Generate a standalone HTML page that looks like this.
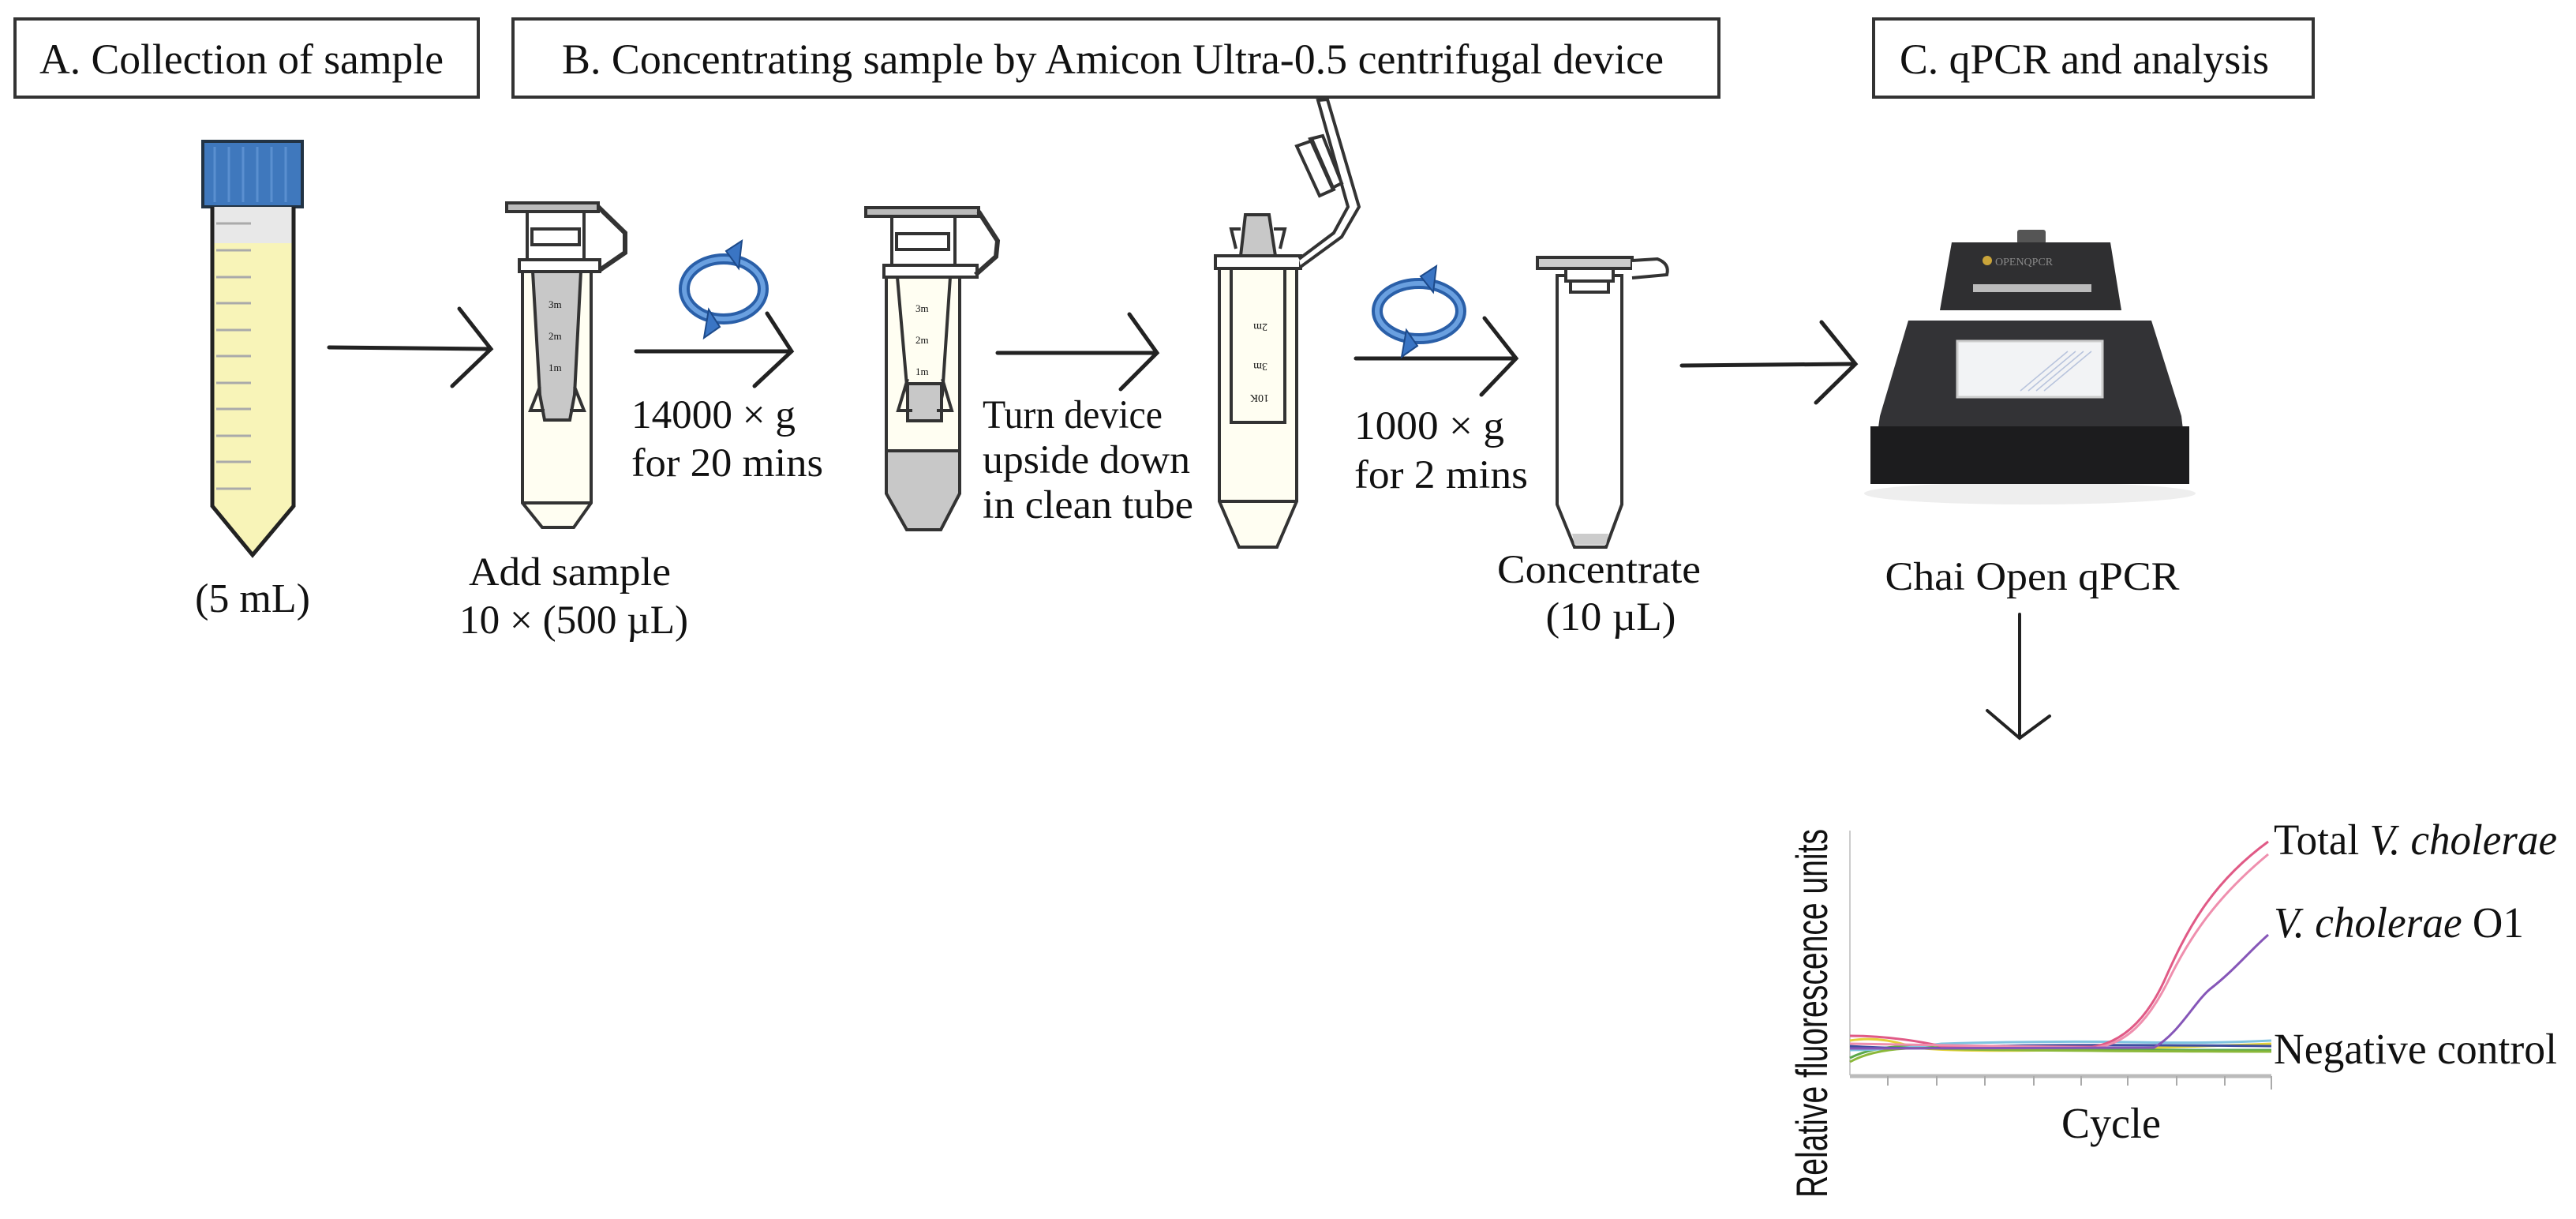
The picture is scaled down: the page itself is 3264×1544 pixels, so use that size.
<!DOCTYPE html>
<html><head><meta charset="utf-8"><style>
html,body{margin:0;padding:0;background:#fff}
svg{display:block}
text{font-family:"Liberation Serif",serif;fill:#111}
</style></head><body>
<svg width="3264" height="1544" viewBox="0 0 3264 1544" xmlns="http://www.w3.org/2000/svg">
<rect width="3264" height="1544" fill="#fff"/>
<!-- header boxes -->
<g fill="#fff" stroke="#333" stroke-width="4">
<rect x="19" y="24" width="587" height="99"/>
<rect x="650" y="24" width="1528" height="99"/>
<rect x="2374" y="24" width="557" height="99"/>
</g>
<g font-size="54">
<text x="50" y="93" textLength="512" lengthAdjust="spacingAndGlyphs">A. Collection of sample</text>
<text x="712" y="93" textLength="1396" lengthAdjust="spacingAndGlyphs">B. Concentrating sample by Amicon Ultra-0.5 centrifugal device</text>
<text x="2407" y="93" textLength="468" lengthAdjust="spacingAndGlyphs">C. qPCR and analysis</text>
</g>

<!-- Falcon tube -->
<rect x="257" y="179" width="126" height="83" fill="#3f78bd" stroke="#234" stroke-width="4"/>
<g stroke="#5a8fd0" stroke-width="3">
<line x1="272" y1="186" x2="272" y2="256"/><line x1="290" y1="186" x2="290" y2="256"/><line x1="308" y1="186" x2="308" y2="256"/><line x1="326" y1="186" x2="326" y2="256"/><line x1="344" y1="186" x2="344" y2="256"/><line x1="362" y1="186" x2="362" y2="256"/>
</g>
<rect x="269" y="262" width="103" height="46" fill="#e8e8e8"/>
<path d="M269 308 L372 308 L372 641 L320 703 L269 641 Z" fill="#f8f4b8"/>
<path d="M269 262 L269 641 L320 703 L372 641 L372 262" fill="none" stroke="#222" stroke-width="5"/>
<g stroke="#aaa" stroke-width="3">
<line x1="274" y1="283" x2="318" y2="283"/>
<line x1="274" y1="317" x2="318" y2="317"/><line x1="274" y1="351" x2="318" y2="351"/><line x1="274" y1="384" x2="318" y2="384"/><line x1="274" y1="418" x2="318" y2="418"/><line x1="274" y1="451" x2="318" y2="451"/><line x1="274" y1="485" x2="318" y2="485"/><line x1="274" y1="518" x2="318" y2="518"/><line x1="274" y1="552" x2="318" y2="552"/><line x1="274" y1="585" x2="318" y2="585"/><line x1="274" y1="619" x2="318" y2="619"/>
</g>
<text x="320" y="775" font-size="52" text-anchor="middle">(5 mL)</text>

<!-- arrows -->
<g fill="none" stroke="#222" stroke-width="5" stroke-linecap="round">
<line x1="417" y1="440" x2="620" y2="442"/><polyline points="582,391 622,442 573,489"/>
<line x1="806" y1="445" x2="1000" y2="445"/><polyline points="972,397 1003,445 956,489"/>
<line x1="1264" y1="447" x2="1464" y2="447"/><polyline points="1431,398 1466,447 1420,493"/>
<line x1="1718" y1="454" x2="1918" y2="454"/><polyline points="1881,403 1921,454 1877,500"/>
<line x1="2131" y1="463" x2="2348" y2="461"/><polyline points="2308,408 2351,461 2301,510"/>
<line x1="2559" y1="778" x2="2559" y2="934" stroke-width="4"/><polyline points="2518,900 2559,935 2597,907" stroke-width="4"/>
</g>

<!-- device tube 2 -->
<g stroke="#333" stroke-width="4">
<path d="M662 344 L662 637 L687 668 L727 668 L749 637 L749 344 Z" fill="#fffef2"/>
<line x1="662" y1="637" x2="749" y2="637"/>
<path d="M675 344 L736 344 L728 500 L722 532 L690 532 L684 500 Z" fill="#c8c8c8"/>
<path d="M684 490 L672 520 L690 520 M728 490 L740 520 L722 520" fill="none"/>
<rect x="668" y="268" width="72" height="61" fill="#fff"/>
<rect x="674" y="290" width="60" height="20" fill="#fff"/>
<rect x="658" y="329" width="102" height="15" fill="#fff"/>
<rect x="642" y="257" width="116" height="11" fill="#bbb"/>
<path d="M758 262 L792 295 L792 320 L760 342" fill="none" stroke-width="6"/>
</g>
<g font-size="13" font-family="Liberation Sans" fill="#444"><text x="695" y="390">3m</text><text x="695" y="430">2m</text><text x="695" y="470">1m</text></g>

<!-- device tube 3 -->
<g stroke="#333" stroke-width="4">
<path d="M1123 351 L1123 625 L1149 671 L1192 671 L1216 625 L1216 351 Z" fill="#fffef2"/>
<path d="M1123 571 L1216 571 L1216 625 L1192 671 L1149 671 L1123 625 Z" fill="#c8c8c8"/>
<path d="M1137 351 L1204 351 L1194 500 L1187 533 L1156 533 L1150 500 Z" fill="#fffef2"/>
<rect x="1150" y="486" width="43" height="47" fill="#c8c8c8"/>
<path d="M1150 480 L1138 520 L1156 520 M1194 480 L1206 520 L1187 520" fill="none"/>
<rect x="1130" y="274" width="80" height="62" fill="#fff"/>
<rect x="1136" y="296" width="66" height="20" fill="#fff"/>
<rect x="1120" y="336" width="118" height="15" fill="#fff"/>
<rect x="1097" y="263" width="143" height="11" fill="#bbb"/>
<path d="M1240 268 L1264 305 L1262 325 L1236 348" fill="none" stroke-width="6"/>
</g>
<g font-size="13" font-family="Liberation Sans" fill="#444"><text x="1160" y="395">3m</text><text x="1160" y="435">2m</text><text x="1160" y="475">1m</text></g>

<!-- inverted tube 4 -->
<g stroke="#333" stroke-width="4">
<path d="M1545 340 L1545 635 L1570 693 L1618 693 L1643 635 L1643 340 Z" fill="#fffef2"/>
<line x1="1545" y1="635" x2="1643" y2="635"/>
<path d="M1560 340 L1628 340 L1628 535 L1560 535 Z" fill="#fffef2"/>
<path d="M1578 272 L1608 272 L1616 324 L1572 324 Z" fill="#c8c8c8"/>
<path d="M1572 290 L1560 290 L1566 315 M1614 290 L1628 290 L1622 315" fill="none"/>
<rect x="1540" y="324" width="108" height="16" fill="#fff"/>
<path d="M1648 338 L1700 300 L1722 262 L1682 126 L1670 127 L1708 262 L1690 295 L1646 328" fill="#fff"/>
<path d="M1643 185 L1663 178 L1690 240 L1672 248 Z M1660 176 L1676 172 L1700 232 L1688 238 Z" fill="#fff"/>
</g>
<g font-size="14" font-family="Liberation Sans" fill="#444"><text x="1580" y="510" transform="rotate(180 1594 505)">10K</text><text x="1582" y="470" transform="rotate(180 1594 465)">3m</text><text x="1582" y="420" transform="rotate(180 1594 415)">2m</text></g>

<!-- tube 5 -->
<g stroke="#333" stroke-width="4">
<path d="M1973 349 L1973 639 L1995 693 L2035 693 L2055 639 L2055 349 Z" fill="#fff"/>
<path d="M1992 676 L2038 676 L2035 690 L1995 690 Z" fill="#ccc" stroke="none"/>
<rect x="1984" y="340" width="60" height="16" fill="#fff"/>
<rect x="1990" y="356" width="48" height="14" fill="#fff"/>
<rect x="1948" y="326" width="120" height="14" fill="#ccc"/>
<path d="M2068 330 L2100 328 Q2116 334 2112 348 L2068 352" fill="#fff"/>
</g>

<!-- rotation icons -->
<g fill="none" stroke="#2a5fa8" stroke-width="14">
<ellipse cx="917" cy="366" rx="50" ry="38"/>
<ellipse cx="1798" cy="394" rx="53" ry="35"/>
</g>
<g fill="none" stroke="#6aa0e0" stroke-width="6">
<ellipse cx="917" cy="366" rx="50" ry="38"/>
<ellipse cx="1798" cy="394" rx="53" ry="35"/>
</g>
<g fill="#3a75c4" stroke="#1d4a8a" stroke-width="2">
<path d="M920 318 L940 305 L936 340 Z"/><path d="M912 414 L892 428 L898 392 Z"/>
<path d="M1800 350 L1820 337 L1816 370 Z"/><path d="M1796 438 L1776 452 L1782 418 Z"/>
</g>

<!-- step labels -->
<g font-size="51">
<text x="800" y="542" textLength="208" lengthAdjust="spacingAndGlyphs">14000 × g</text>
<text x="800" y="603" textLength="243" lengthAdjust="spacingAndGlyphs">for 20 mins</text>
<text x="1245" y="542" textLength="228" lengthAdjust="spacingAndGlyphs">Turn device</text>
<text x="1245" y="599" textLength="263" lengthAdjust="spacingAndGlyphs">upside down</text>
<text x="1245" y="656" textLength="267" lengthAdjust="spacingAndGlyphs">in clean tube</text>
<text x="1716" y="556" textLength="190" lengthAdjust="spacingAndGlyphs">1000 × g</text>
<text x="1716" y="618" textLength="220" lengthAdjust="spacingAndGlyphs">for 2 mins</text>
<text x="722" y="741" text-anchor="middle" textLength="256" lengthAdjust="spacingAndGlyphs">Add sample</text>
<text x="727" y="802" text-anchor="middle" textLength="290" lengthAdjust="spacingAndGlyphs">10 × (500 µL)</text>
<text x="2026" y="738" text-anchor="middle" textLength="258" lengthAdjust="spacingAndGlyphs">Concentrate</text>
<text x="2041" y="798" text-anchor="middle" textLength="165" lengthAdjust="spacingAndGlyphs">(10 µL)</text>
<text x="2575" y="747" text-anchor="middle" textLength="373" lengthAdjust="spacingAndGlyphs">Chai Open qPCR</text>
</g>

<!-- qPCR machine -->
<ellipse cx="2572" cy="625" rx="210" ry="14" fill="#eee"/>
<rect x="2556" y="291" width="36" height="18" rx="3" fill="#555"/>
<path d="M2473 307 L2674 307 L2688 393 L2458 393 Z" fill="#2f2f31"/>
<rect x="2500" y="360" width="150" height="10" fill="#bbb"/>
<circle cx="2518" cy="330" r="6" fill="#c9a43a"/>
<text x="2528" y="336" font-size="14" font-family="Liberation Sans" fill="#888" style="fill:#888">OPENQPCR</text>
<path d="M2418 406 L2726 406 L2764 527 L2774 613 L2370 613 L2382 527 Z" fill="#333336"/>
<path d="M2370 540 L2774 540 L2774 613 L2370 613 Z" fill="#1c1c1e"/>
<rect x="2480" y="432" width="184" height="71" fill="#f2f3f5" stroke="#ccc" stroke-width="3"/>
<g stroke="#b8c4dd" stroke-width="1.5"><line x1="2560" y1="495" x2="2620" y2="445"/><line x1="2570" y1="495" x2="2630" y2="445"/><line x1="2580" y1="495" x2="2640" y2="445"/><line x1="2590" y1="495" x2="2650" y2="445"/></g>

<!-- chart -->
<g stroke="#ccc" stroke-width="2" fill="none">
<line x1="2344" y1="1052" x2="2344" y2="1362"/>
</g>
<line x1="2344" y1="1363" x2="2878" y2="1363" stroke="#bbb" stroke-width="5"/>
<g stroke="#aaa" stroke-width="2">
<line x1="2392" y1="1363" x2="2392" y2="1375"/><line x1="2454" y1="1363" x2="2454" y2="1375"/><line x1="2515" y1="1363" x2="2515" y2="1375"/><line x1="2577" y1="1363" x2="2577" y2="1375"/><line x1="2637" y1="1363" x2="2637" y2="1375"/><line x1="2696" y1="1363" x2="2696" y2="1375"/><line x1="2758" y1="1363" x2="2758" y2="1375"/><line x1="2819" y1="1363" x2="2819" y2="1375"/><line x1="2878" y1="1363" x2="2878" y2="1380"/>
</g>
<g fill="none" stroke-width="3">
<path d="M2344 1318 Q2380 1312 2420 1325 T2878 1322" stroke="#e4d23a"/>
<path d="M2344 1340 Q2380 1322 2440 1326 T2878 1330" stroke="#5aa84a"/>
<path d="M2344 1330 Q2400 1330 2460 1322 Q2600 1318 2700 1320 T2878 1318" stroke="#7ec3e0"/>
<path d="M2344 1325 Q2420 1330 2500 1326 T2878 1325" stroke="#3c4fa0"/>
<path d="M2344 1345 Q2380 1325 2450 1328 T2878 1332" stroke="#8bb83a"/>
<path d="M2344 1312 Q2400 1312 2460 1325 L2651 1326 C2690 1320 2720 1290 2742 1243 C2770 1180 2800 1120 2874 1066" stroke="#e05a86"/>
<path d="M2344 1322 L2655 1327 C2695 1322 2722 1292 2746 1245 C2775 1185 2810 1135 2874 1082" stroke="#ef8fae"/>
<path d="M2344 1328 L2729 1327 C2760 1310 2780 1270 2800 1253 C2830 1230 2850 1205 2874 1184" stroke="#8656b8"/>
</g>
<g font-size="55">
<text x="2881" y="1082" textLength="359" lengthAdjust="spacingAndGlyphs">Total <tspan font-style="italic">V. cholerae</tspan></text>
<text x="2881" y="1187" textLength="317" lengthAdjust="spacingAndGlyphs"><tspan font-style="italic">V. cholerae</tspan> O1</text>
<text x="2881" y="1347" textLength="359" lengthAdjust="spacingAndGlyphs">Negative control</text>
<text x="2612" y="1441" textLength="126" lengthAdjust="spacingAndGlyphs">Cycle</text>
</g>
<text x="0" y="0" font-size="56" transform="translate(2315 1517) rotate(-90)" style="font-family:'Liberation Sans',sans-serif" textLength="467" lengthAdjust="spacingAndGlyphs">Relative fluorescence units</text>
</svg>
</body></html>
